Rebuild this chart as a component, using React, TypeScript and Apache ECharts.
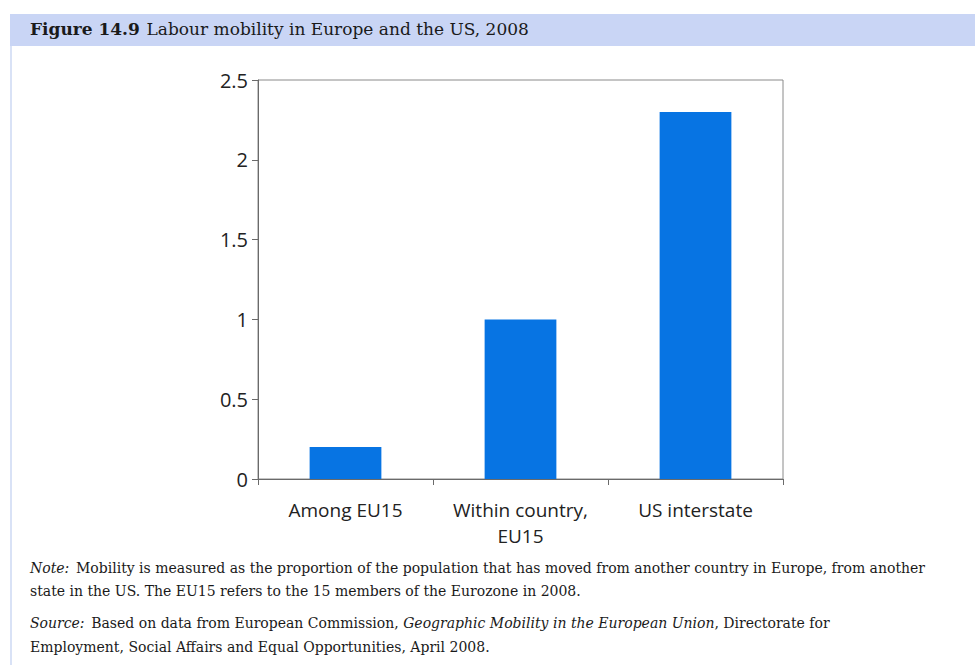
import React, { useEffect, useRef } from "react";
import * as echarts from "echarts";

const categories = ["Among EU15", "Within country,\nEU15", "US interstate"];
const mobility = [0.2, 1.0, 2.3];
const yTicks = { min: 0, max: 2.5, interval: 0.5 };

const titleBold = "Figure 14.9";
const titleText = "Labour mobility in Europe and the US, 2008";
const noteLines = [
  "Mobility is measured as the proportion of the population that has moved from another country in Europe, from another",
  "state in the US. The EU15 refers to the 15 members of the Eurozone in 2008.",
];
const sourceLine1a = "Based on data from European Commission, ";
const sourceLine1b = "Geographic Mobility in the European Union";
const sourceLine1c = ", Directorate for";
const sourceLine2 = "Employment, Social Affairs and Equal Opportunities, April 2008.";

export default function App() {
  const ref = useRef<HTMLDivElement>(null);
  useEffect(() => {
    if (!ref.current) return;
    const chart = echarts.init(ref.current, null, { renderer: "svg" });
    const serif = "'DejaVu Serif', 'Liberation Serif', serif";
    const sans = "'Open Sans', 'Noto Sans', sans-serif";
    const noteStyle = (y: number, text: string, rich?: any) => ({
      type: "text",
      x: 30,
      y,
      style: rich
        ? { text, verticalAlign: "middle", rich }
        : { text, verticalAlign: "middle", fontFamily: serif, fontSize: 14, fill: "#1a1a1a" },
    });
    const mixedRich = {
      i: { fontFamily: serif, fontSize: 14, fontStyle: "italic", fill: "#1a1a1a" },
      n: { fontFamily: serif, fontSize: 14, fill: "#1a1a1a" },
    };
    chart.setOption({
      animation: false,
      backgroundColor: "#ffffff",
      grid: {
        left: 258,
        right: 192,
        top: 80,
        bottom: 186,
        show: true,
        borderColor: "#8a8a8a",
        borderWidth: 1,
        backgroundColor: "transparent",
      },
      xAxis: {
        type: "category",
        data: categories,
        axisLine: { show: true, lineStyle: { color: "#6a6a6a", width: 1 } },
        axisTick: { show: true, alignWithLabel: false, length: 6, lineStyle: { color: "#6a6a6a" } },
        axisLabel: {
          interval: 0,
          hideOverlap: false,
          color: "#222",
          fontFamily: sans,
          fontSize: 19,
          lineHeight: 26,
          margin: 18,
        },
        splitLine: { show: false },
      },
      yAxis: {
        type: "value",
        min: yTicks.min,
        max: yTicks.max,
        interval: yTicks.interval,
        axisLine: { show: true, lineStyle: { color: "#6a6a6a", width: 1 } },
        axisTick: { show: true, length: 6, lineStyle: { color: "#6a6a6a" } },
        axisLabel: {
          color: "#222",
          fontFamily: sans,
          fontSize: 20,
          margin: 10,
        },
        splitLine: { show: false },
      },
      series: [
        {
          type: "bar",
          data: mobility,
          barWidth: "41%",
          itemStyle: { color: "#0774e3" },
        },
      ],
      graphic: [
        {
          type: "rect",
          shape: { x: 10, y: 14, width: 965, height: 32 },
          style: { fill: "#c9d5f5" },
        },
        {
          type: "line",
          shape: { x1: 11, y1: 46, x2: 11, y2: 665 },
          style: { stroke: "#cdd8f3", lineWidth: 1.5 },
        },
        {
          type: "text",
          x: 30,
          y: 29,
          style: {
            text: "{b|" + titleBold + "}  {n|" + titleText + "}",
            verticalAlign: "middle",
            rich: {
              b: { fontFamily: serif, fontSize: 17, fontWeight: "bold", fill: "#1a1a1a" },
              n: { fontFamily: serif, fontSize: 17, fill: "#1a1a1a" },
            },
          },
        },
        noteStyle(568, "{i|Note:}  {n|" + noteLines[0] + "}", mixedRich),
        noteStyle(591, noteLines[1]),
        noteStyle(
          623,
          "{i|Source:}  {n|" + sourceLine1a + "}{i|" + sourceLine1b + "}{n|" + sourceLine1c + "}",
          mixedRich
        ),
        noteStyle(647, sourceLine2),
      ],
    });
    return () => chart.dispose();
  }, []);
  return (
    <div
      ref={ref}
      style={{ position: "fixed", left: 0, top: 0, width: 975, height: 665 }}
    />
  );
}
